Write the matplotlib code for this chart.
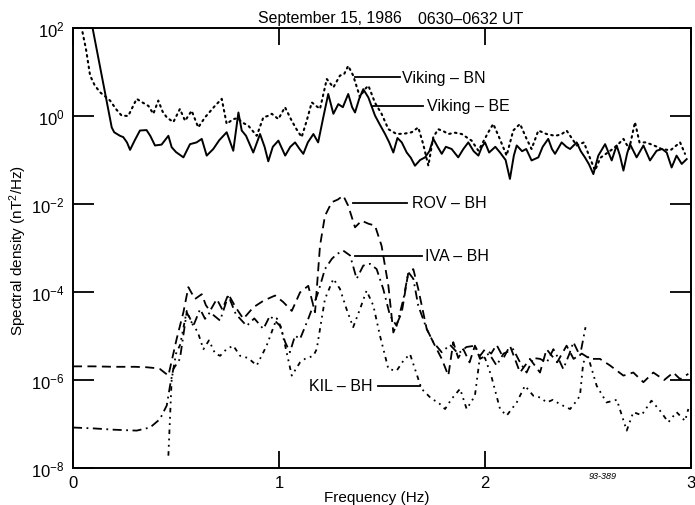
import numpy as np
import matplotlib
matplotlib.use("Agg")
import matplotlib.pyplot as plt

plt.rcParams['font.family'] = ['Liberation Sans', 'DejaVu Sans']
plt.rcParams['mathtext.fontset'] = 'custom'
plt.rcParams['mathtext.rm'] = 'Liberation Sans'
plt.rcParams['mathtext.it'] = 'Liberation Sans:italic'

# ---- data (frequency in Hz, spectral density as log10 of nT^2/Hz) ----
be_freq = [0.085, 0.095, 0.188, 0.20, 0.228, 0.244, 0.262, 0.277, 0.30, 0.325, 0.357, 0.375, 0.398, 0.43,
           0.463, 0.479, 0.50, 0.536, 0.568, 0.60, 0.625, 0.649, 0.681, 0.71, 0.746, 0.778, 0.803, 0.819,
           0.84, 0.875, 0.908, 0.93, 0.948, 0.97, 0.997, 1.03, 1.055, 1.078, 1.10, 1.118, 1.14, 1.167,
           1.19, 1.215, 1.239, 1.264, 1.288, 1.31, 1.336, 1.355, 1.369, 1.39, 1.409, 1.434, 1.466, 1.49,
           1.515, 1.535, 1.555, 1.575, 1.596, 1.62, 1.64, 1.66, 1.685, 1.709, 1.73, 1.749, 1.77, 1.79,
           1.81, 1.838, 1.87, 1.895, 1.919, 1.945, 1.968, 1.985, 2.0, 2.02, 2.05, 2.073, 2.10, 2.121,
           2.14, 2.154, 2.18, 2.20, 2.226, 2.259, 2.28, 2.307, 2.325, 2.34, 2.372, 2.395, 2.413, 2.445,
           2.465, 2.485, 2.505, 2.526, 2.55, 2.583, 2.615, 2.639, 2.655, 2.672, 2.69, 2.704, 2.736,
           2.769, 2.801, 2.833, 2.86, 2.882, 2.906, 2.93, 2.955, 2.979]
be_log = [2.4, 2.0, -0.26, -0.37, -0.45, -0.48, -0.6, -0.77, -0.55, -0.33, -0.32, -0.45, -0.67, -0.65,
          -0.45, -0.71, -0.82, -0.94, -0.64, -0.6, -0.52, -0.9, -0.75, -0.55, -0.37, -0.79, 0.08, -0.33,
          -0.45, -0.83, -0.41, -0.7, -1.03, -0.7, -0.56, -0.9, -0.7, -0.6, -0.75, -0.86, -0.6, -0.41,
          -0.6, -0.03, 0.5, 0.05, 0.27, 0.2, 0.5, 0.2, 0.08, 0.4, 0.61, 0.42, 0.01, -0.2,
          -0.41, -0.6, -0.83, -0.5, -0.6, -0.83, -0.95, -1.13, -1.0, -0.94, -0.8, -0.52, -0.7, -0.86,
          -0.7, -0.75, -0.94, -0.75, -0.6, -0.8, -0.9, -0.7, -0.6, -0.83, -0.7, -0.83, -1.0, -1.43,
          -0.9, -0.67, -0.8, -0.75, -1.01, -0.94, -0.7, -0.52, -0.75, -0.86, -0.6, -0.7, -0.75, -0.6,
          -0.8, -0.94, -1.1, -1.32, -0.9, -0.64, -1.01, -0.67, -0.9, -1.24, -0.85, -0.64, -0.94,
          -0.67, -1.01, -0.79, -0.75, -0.83, -1.17, -0.9, -1.09, -0.98]

bn_freq = [0.035, 0.042, 0.063, 0.083, 0.105, 0.131, 0.155, 0.18, 0.21, 0.236, 0.268, 0.309, 0.34, 0.366,
           0.39, 0.414, 0.435, 0.455, 0.487, 0.519, 0.544, 0.576, 0.608, 0.641, 0.665, 0.689, 0.722,
           0.746, 0.778, 0.80, 0.819, 0.851, 0.892, 0.924, 0.945, 0.965, 0.997, 1.029, 1.062, 1.085,
           1.11, 1.135, 1.159, 1.199, 1.232, 1.264, 1.296, 1.316, 1.336, 1.36, 1.393, 1.415, 1.434,
           1.466, 1.498, 1.531, 1.571, 1.61, 1.644, 1.676, 1.70, 1.725, 1.749, 1.773, 1.80, 1.822,
           1.855, 1.887, 1.935, 1.968, 2.016, 2.04, 2.07, 2.105, 2.137, 2.17, 2.20, 2.226, 2.259,
           2.299, 2.34, 2.37, 2.396, 2.445, 2.48, 2.505, 2.534, 2.56, 2.59, 2.62, 2.645, 2.672, 2.70,
           2.728, 2.75, 2.78, 2.81, 2.835, 2.857, 2.90, 2.947, 2.971]
bn_log = [2.3, 2.0, 1.52, 0.92, 0.7, 0.54, 0.45, 0.35, 0.15, 0.01, 0.0, 0.39, 0.3, 0.23,
          0.05, 0.35, 0.1, -0.03, -0.14, 0.16, -0.11, 0.12, -0.26, -0.03, 0.1, 0.23, 0.39,
          -0.18, -0.07, -0.05, -0.14, -0.22, -0.45, -0.03, 0.0, 0.05, -0.07, 0.2, -0.11, -0.3,
          -0.48, -0.1, 0.31, 0.16, 0.84, 0.65, 0.92, 0.95, 1.14, 0.92, 0.43, 0.6, 0.69,
          0.3, 0.05, -0.3, -0.41, -0.4, -0.37, -0.26, -0.64, -1.13, -0.48, -0.3, -0.35, -0.41,
          -0.38, -0.41, -0.56, -0.79, -0.37, -0.18, -0.5, -0.9, -0.33, -0.18, -0.5, -0.75, -0.33,
          -0.41, -0.45, -0.42, -0.33, -0.67, -0.6, -0.9, -1.24, -0.95, -0.85, -0.75, -0.65, -0.52, -0.75,
          -0.14, -0.6, -0.6, -0.65, -0.7, -0.75, -0.78, -0.6, -0.86]

rov_freq = [0.0, 0.10, 0.20, 0.30, 0.357, 0.40, 0.422, 0.463, 0.503, 0.536, 0.56, 0.592, 0.625, 0.645,
            0.665, 0.698, 0.725, 0.754, 0.79, 0.827, 0.875, 0.924, 0.981, 1.021, 1.062, 1.102, 1.142,
            1.175, 1.199, 1.223, 1.256, 1.285, 1.312, 1.336, 1.369, 1.401, 1.435, 1.466, 1.498, 1.531,
            1.555, 1.596, 1.628, 1.652, 1.676, 1.717, 1.757, 1.79, 1.822, 1.846, 1.87, 1.895, 1.925,
            1.951, 1.976, 2.0, 2.03, 2.056, 2.09, 2.121, 2.17, 2.218, 2.267, 2.299, 2.35, 2.396, 2.43,
            2.47, 2.51, 2.558, 2.607, 2.672, 2.72, 2.769, 2.817, 2.87, 2.914, 2.947, 2.987]
rov_log = [-5.69, -5.69, -5.70, -5.70, -5.71, -5.73, -5.75, -5.9, -5.07, -4.46, -3.89, -4.16, -4.05, -4.3,
           -4.43, -4.16, -4.4, -4.05, -4.35, -4.61, -4.35, -4.2, -4.08, -4.23, -4.43, -4.01, -3.86,
           -4.46, -2.95, -2.27, -1.96, -1.9, -1.81, -2.04, -2.53, -2.38, -2.45, -2.49, -2.95, -3.86,
           -4.92, -4.46, -3.55, -3.48, -3.93, -4.84, -5.22, -5.52, -5.9, -5.14, -5.5, -5.3, -5.6,
           -5.22, -5.45, -5.3, -5.4, -5.2, -5.5, -5.22, -5.83, -5.52, -5.83, -5.3, -5.6, -5.22, -5.52,
           -5.4, -5.52, -5.52, -5.67, -5.9, -5.83, -6.05, -5.83, -6.0, -5.83, -5.98, -5.86]

iva_freq = [0.0, 0.10, 0.20, 0.309, 0.374, 0.422, 0.455, 0.471, 0.487, 0.519, 0.552, 0.584, 0.617, 0.641,
            0.665, 0.714, 0.754, 0.79, 0.843, 0.88, 0.924, 0.956, 1.005, 1.03, 1.053, 1.078, 1.102,
            1.142, 1.19, 1.223, 1.256, 1.28, 1.312, 1.345, 1.377, 1.409, 1.442, 1.474, 1.506, 1.539,
            1.571, 1.604, 1.628, 1.652, 1.676, 1.717, 1.749, 1.79, 1.83, 1.87, 1.91, 1.951, 1.976,
            2.02, 2.056, 2.09, 2.137, 2.17, 2.202, 2.235, 2.267, 2.3, 2.332, 2.355, 2.38, 2.41, 2.429,
            2.461, 2.488]
iva_log = [-7.08, -7.10, -7.13, -7.15, -7.08, -6.89, -6.58, -6.13, -5.75, -5.52, -4.46, -4.77, -4.39, -4.61,
           -4.46, -4.65, -4.08, -4.5, -4.77, -4.6, -4.84, -4.54, -4.77, -5.14, -5.37, -4.99, -5.07,
           -4.61, -4.01, -3.48, -3.25, -3.14, -3.06, -3.17, -3.7, -3.4, -3.36, -3.48, -3.93, -4.54,
           -4.77, -4.16, -3.55, -3.7, -4.31, -4.84, -5.14, -5.37, -5.2, -5.4, -5.25, -5.22, -5.52,
           -5.4, -5.67, -5.4, -5.3, -5.6, -5.83, -5.5, -5.52, -5.6, -5.3, -5.5, -5.75, -5.4, -5.14,
           -5.45, -4.8]

kil_freq = [0.463, 0.479, 0.50, 0.52, 0.552, 0.584, 0.605, 0.633, 0.66, 0.69, 0.714, 0.745, 0.778, 0.811,
            0.85, 0.892, 0.94, 0.989, 1.01, 1.062, 1.102, 1.126, 1.167, 1.183, 1.223, 1.264, 1.296,
            1.328, 1.36, 1.393, 1.425, 1.458, 1.49, 1.531, 1.571, 1.604, 1.636, 1.66, 1.692, 1.741,
            1.773, 1.806, 1.838, 1.879, 1.911, 1.951, 1.976, 2.0, 2.03, 2.073, 2.105, 2.154, 2.194,
            2.235, 2.27, 2.299, 2.33, 2.364, 2.413, 2.44, 2.461, 2.477, 2.501, 2.542, 2.59, 2.64,
            2.688, 2.72, 2.76, 2.808, 2.85, 2.89, 2.93, 2.971, 2.987]
kil_log = [-7.72, -5.98, -5.4, -5.2, -4.43, -4.77, -4.9, -5.3, -5.1, -5.4, -5.45, -5.3, -5.22, -5.45,
           -5.5, -5.67, -5.22, -4.6, -4.8, -5.9, -5.6, -5.52, -5.45, -5.3, -4.16, -3.7, -3.93,
           -4.39, -4.8, -4.39, -3.97, -4.31, -4.99, -5.75, -5.79, -5.56, -5.41, -5.75, -6.2, -6.43,
           -6.51, -6.66, -6.43, -6.2, -6.66, -6.36, -5.45, -5.5, -5.9, -6.66, -6.81, -6.51, -6.13,
           -6.36, -6.4, -6.51, -6.45, -6.55, -6.66, -6.5, -6.36, -5.6, -5.48, -6.13, -6.51, -6.45,
           -7.15, -6.73, -6.8, -6.47, -6.7, -6.96, -6.73, -6.93, -6.66]

x_ticks = [0, 1, 2, 3]
x_tick_labels = ['0', '1', '2', '3']
y_exponents = [2, 0, -2, -4, -6, -8]

# ---- figure ----
W, H = 695, 506
fig = plt.figure(figsize=(W / 100, H / 100), dpi=100)
ax = fig.add_axes([73 / W, 1 - 469 / H, (691 - 73) / W, (469 - 29) / H])

def pw(v):
    return np.power(10.0, np.asarray(v))

ax.plot(bn_freq, pw(bn_log), color='black', lw=1.5, linestyle=(0, (0.8, 2.0)), dash_capstyle='round')
ax.plot(be_freq, pw(be_log), color='black', lw=1.4, linestyle='-')
ax.plot(rov_freq, pw(rov_log), color='black', lw=1.3, linestyle=(0, (5, 3)))
ax.plot(iva_freq, pw(iva_log), color='black', lw=1.3, linestyle=(0, (5, 2.5, 1, 2.5)))
ax.plot(kil_freq, pw(kil_log), color='black', lw=1.3, linestyle=(0, (2.5, 2.5, 1, 2.5, 1, 2.5)))

ax.set_yscale('log')
ax.set_xlim(0, 3)
ax.set_ylim(1e-8, 1e2)
ax.set_xticks(x_ticks)
ax.set_xticklabels(x_tick_labels)
ax.set_yticks([10.0 ** e for e in y_exponents])
ax.set_yticklabels([r'$10^{%d}$' % e for e in y_exponents])
ax.yaxis.set_minor_locator(matplotlib.ticker.NullLocator())
ax.tick_params(axis='y', which='major', direction='in', length=15, width=1.3,
               right=True, labelsize=12, pad=6)
ax.tick_params(axis='x', which='major', direction='in', length=12, width=1.3,
               top=True, labelsize=12, pad=5)
for s in ax.spines.values():
    s.set_linewidth(1.4)

# ---- curve labels ----
lab_fs = 11.5
def label(x0, x1, y, text, tx, ha='left'):
    ax.plot([x0, x1], [y, y], color='black', lw=1.3)
    ax.text(tx, y, text, ha=ha, va='center', fontsize=lab_fs)

label(1.369, 1.587, 10 ** 0.88, 'Viking \u2013 BN', 1.596)
label(1.458, 1.70, 10 ** 0.234, 'Viking \u2013 BE', 1.72)
label(1.361, 1.62, 10 ** -1.977, 'ROV \u2013 BH', 1.646)
label(1.369, 1.693, 10 ** -3.175, 'IVA \u2013 BH', 1.71)
label(1.482, 1.684, 10 ** -6.13, 'KIL \u2013 BH', 1.456, ha='right')

# ---- titles / axis labels ----
fig.text(258 / W, 1 - 23.5 / H, 'September 15, 1986', fontsize=11.4, ha='left', va='baseline')
fig.text(418 / W, 1 - 23.5 / H, '0630\u20130632 UT', fontsize=11.4, ha='left', va='baseline')
fig.text(18 / W, 1 - 250 / H, r'Spectral density (nT$^2$/Hz)', rotation=90, fontsize=11,
         ha='center', va='center')
fig.text(377 / W, 1 - 498 / H, 'Frequency (Hz)', fontsize=11, ha='center', va='center')
fig.text(603 / W, 1 - 477 / H, '93-389', fontsize=6.5, style='italic', ha='center', va='center')

fig.savefig('out.png', dpi=100)
